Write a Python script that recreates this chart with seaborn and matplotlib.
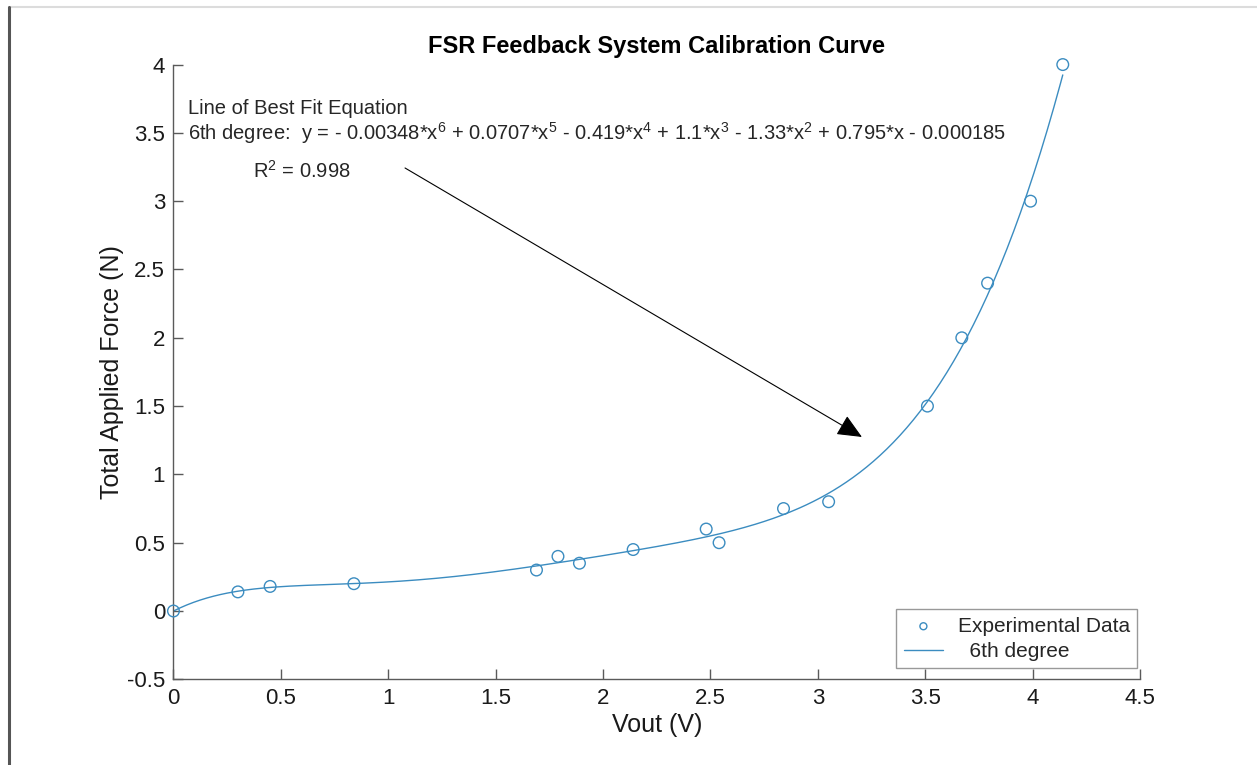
"""
FSR feedback system calibration curve (MATLAB-style recreation).
"""

import matplotlib
matplotlib.use("Agg")
import matplotlib.pyplot as plt
from matplotlib.lines import Line2D
import seaborn as sns
import numpy as np
import pandas as pd

vout = [0.0, 0.30, 0.45, 0.84, 1.69, 1.79, 1.89, 2.14, 2.48, 2.54,
        2.84, 3.05, 3.51, 3.67, 3.79, 3.99, 4.14]
force = [0.0, 0.14, 0.18, 0.20, 0.30, 0.40, 0.35, 0.45, 0.60, 0.50,
         0.75, 0.80, 1.50, 2.00, 2.40, 3.00, 4.00]

# 6th degree fit coefficients as printed on the chart (highest power first)
fit_coefs = [-0.00348, 0.0707, -0.419, 1.1, -1.33, 0.795, -0.000185]
r_squared = 0.998

x_ticks = [0, 0.5, 1, 1.5, 2, 2.5, 3, 3.5, 4, 4.5]
y_ticks = [-0.5, 0, 0.5, 1, 1.5, 2, 2.5, 3, 3.5, 4]

blue = "#3b8cc0"
axis_grey = "#5a5a5a"

sns.set_style("ticks")
plt.rcParams["font.family"] = ["Liberation Sans", "DejaVu Sans"]
plt.rcParams["mathtext.default"] = "regular"

df = pd.DataFrame({"vout": vout, "force": force})
x_fit = np.linspace(min(vout), max(vout), 400)
fit_df = pd.DataFrame({"vout": x_fit, "force": np.polyval(fit_coefs, x_fit)})

fig = plt.figure(figsize=(12.57, 7.65), dpi=100)
ax = fig.add_axes([0.138, 0.112, 0.769, 0.8036])

sns.scatterplot(data=df, x="vout", y="force", ax=ax, marker="o", s=70,
                facecolor="none", edgecolor=blue, linewidth=1.0,
                label="Experimental Data", zorder=3, clip_on=False)
sns.lineplot(data=fit_df, x="vout", y="force", ax=ax, color=blue,
             linewidth=1.0, label="  6th degree", zorder=2)

ax.set_xlim(0, 4.5)
ax.set_ylim(-0.5, 4)
ax.set_xticks(x_ticks)
ax.set_yticks(y_ticks)
ax.set_xticklabels([f"{t:g}" for t in x_ticks])
ax.set_yticklabels([f"{t:g}" for t in y_ticks])
ax.tick_params(direction="in", length=7, width=1, colors=axis_grey,
               labelcolor="#1a1a1a", labelsize=16, pad=6)

for side in ["top", "right"]:
    ax.spines[side].set_visible(False)
for side in ["left", "bottom"]:
    ax.spines[side].set_color(axis_grey)
    ax.spines[side].set_linewidth(1.0)

ax.set_xlabel("Vout (V)", fontsize=18, color="#1a1a1a", labelpad=3)
ax.set_ylabel("Total Applied Force (N)", fontsize=18, color="#1a1a1a", labelpad=2)
ax.set_title("FSR Feedback System Calibration Curve", fontsize=17,
             fontweight="bold", color="black", pad=8)

# fit equation annotation
eq = ("6th degree:  y = - 0.00348*x$^{6}$ + 0.0707*x$^{5}$ - 0.419*x$^{4}$"
      " + 1.1*x$^{3}$ - 1.33*x$^{2}$ + 0.795*x - 0.000185")
ax.text(0.067, 3.64, "Line of Best Fit Equation", fontsize=14.5, va="baseline")
ax.text(0.067, 3.45, eq, fontsize=14.5, va="baseline")
ax.text(0.37, 3.17, f"R$^{{2}}$ = {r_squared}", fontsize=14.5, va="baseline")
ax.annotate("", xy=(3.205, 1.274), xytext=(1.078, 3.243),
            arrowprops=dict(arrowstyle="-|>,head_length=0.9,head_width=0.4",
                            color="black", lw=0.8, mutation_scale=17,
                            shrinkA=0, shrinkB=0))

leg = ax.legend(loc="lower right", bbox_to_anchor=(0.997, 0.018),
                borderaxespad=0, fontsize=15, frameon=True, fancybox=False,
                markerscale=0.6, handlelength=1.9, borderpad=0.35,
                labelspacing=0.3, handletextpad=0.7)
leg.get_frame().set_edgecolor("#808080")
leg.get_frame().set_linewidth(1.0)

# window border from the original screenshot
fig.add_artist(Line2D([0.0072, 1.0], [0.9908, 0.9908], transform=fig.transFigure,
                      color="#dcdcdc", linewidth=1.5))
fig.add_artist(Line2D([0.0072, 0.0072], [0.0, 0.9908], transform=fig.transFigure,
                      color="#555555", linewidth=2.2))

fig.savefig("out.png", dpi=100, facecolor="white")
